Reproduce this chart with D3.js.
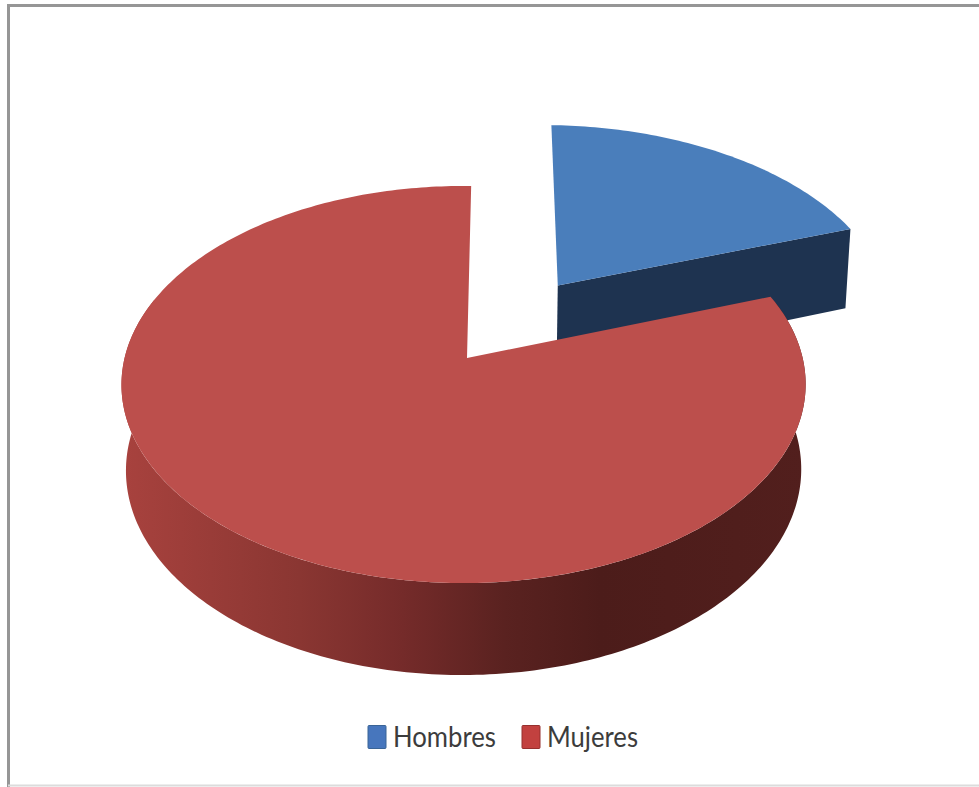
<!DOCTYPE html>
<html>
<head>
<meta charset="utf-8">
<script src="https://cdn.jsdelivr.net/npm/d3@7"></script>
<style>
html,body{margin:0;padding:0;background:#fff}
svg{display:block}
</style>
</head>
<body>
<svg id="chart" width="979" height="787"></svg>
<script>
const categories = ["Hombres", "Mujeres"];
const shares = [19.4, 80.6];
const topColors = ["#4a7ebb", "#bc4f4c"];
const legendColors = ["#4776bd", "#c2413f"];
const legendEdges = ["#3a6496", "#96302e"];
const wallOffsets = [0, 0.26, 0.41, 0.56, 0.7, 1];
const wallShades = ["#a8423e", "#8a3632", "#752b2a", "#5a2220", "#4c1c1a", "#521f1d"];
const cutColor = "#1e3350";
const explode = [0.484, 0];
const radii = [1.032, 1];
const rotationDeg = 0.8;

const svg = d3.select("#chart");
const line = d3.line();

// chart frame: heavy top and left rules, faint bottom rule
svg.append("path").attr("d", line([[8.5, 787], [8.5, 5.5], [979, 5.5]]))
  .attr("fill", "none").attr("stroke", "#969696").attr("stroke-width", 3);
svg.append("path").attr("d", line([[8, 785.5], [979, 785.5]]))
  .attr("fill", "none").attr("stroke", "#dcdcdc").attr("stroke-width", 2);

// projective view of the disk plane: u to the right, v toward the viewer
const view = {x0: 467, y0: 358, sx: 339, sy: 195, k: 0.1335, m: 0.01, depth: 84.5, power: 0.59, taper: 0.987};
const weight = (u, v) => 1 - view.k * v + view.m * u;
const project = (u, v) => {
  const w = weight(u, v);
  return [view.x0 + view.sx * u / w, view.y0 + view.sy * v / w];
};
const projectBase = (u, v) => {
  const [x, y] = project(u, v);
  return [view.x0 + (x - view.x0) * view.taper, y + view.depth / Math.pow(weight(u, v), view.power)];
};

const start = rotationDeg * Math.PI / 180;
const arcs = d3.pie().sort(null).value(d => d)
  .startAngle(start).endAngle(start + 2 * Math.PI)(shares);

// rim of a wedge between two angles, with its apex, under a given projection
function rim(d, i, fn, from = d.startAngle, to = d.endAngle) {
  const mid = (d.startAngle + d.endAngle) / 2;
  const ox = explode[i] * Math.sin(mid), oy = -explode[i] * Math.cos(mid);
  const n = Math.ceil((to - from) * 60);
  return {
    pts: d3.range(n + 1).map(j => {
      const a = from + (to - from) * j / n;
      return fn(ox + radii[i] * Math.sin(a), oy - radii[i] * Math.cos(a));
    }),
    apex: fn(ox, oy)
  };
}

const x = d3.scaleLinear().domain([0, 1]).range([122, 805]);
const grad = svg.append("defs").append("linearGradient").attr("id", "wall")
  .attr("gradientUnits", "userSpaceOnUse")
  .attr("x1", x(0)).attr("x2", x(1)).attr("y1", 0).attr("y2", 0);
wallOffsets.forEach((o, j) => grad.append("stop").attr("offset", o).attr("stop-color", wallShades[j]));

const slices = svg.append("g").selectAll("g").data(arcs).join("g");

slices.each(function (d, i) {
  const g = d3.select(this);
  const top = rim(d, i, project);
  if (explode[i] > 0) {
    // radial cut face of the pulled-out wedge, the only side turned to the viewer
    const base = rim(d, i, projectBase);
    const last = top.pts.length - 1;
    g.append("path")
      .attr("d", line([top.apex, top.pts[last], base.pts[last], base.apex]) + "Z")
      .attr("fill", cutColor);
  } else {
    // curved outer wall, front part of the rim only
    const from = Math.PI * 0.4, to = Math.PI * 1.6;
    const wallTop = rim(d, i, project, from, to);
    const wallBase = rim(d, i, projectBase, from, to);
    g.append("path")
      .attr("d", line(wallTop.pts.concat(wallBase.pts.slice().reverse())) + "Z")
      .attr("fill", "url(#wall)");
  }
  // top face
  g.append("path")
    .attr("d", line([top.apex].concat(top.pts)) + "Z")
    .attr("fill", topColors[i]);
});

// legend
const legend = svg.append("g").attr("font-family", "Lato, sans-serif").attr("font-size", 29);
const legendX = [368, 522];
const textSpan = [103, 91];
categories.forEach((c, i) => {
  legend.append("rect").attr("x", legendX[i]).attr("y", 725.5).attr("width", 18).attr("height", 23)
    .attr("rx", 1).attr("fill", legendColors[i]).attr("stroke", legendEdges[i]).attr("stroke-width", 1);
  legend.append("text").attr("x", legendX[i] + 25).attr("y", 747).attr("fill", "#3c3c3c")
    .attr("textLength", textSpan[i]).attr("lengthAdjust", "spacingAndGlyphs").text(c);
});
</script>
</body>
</html>
